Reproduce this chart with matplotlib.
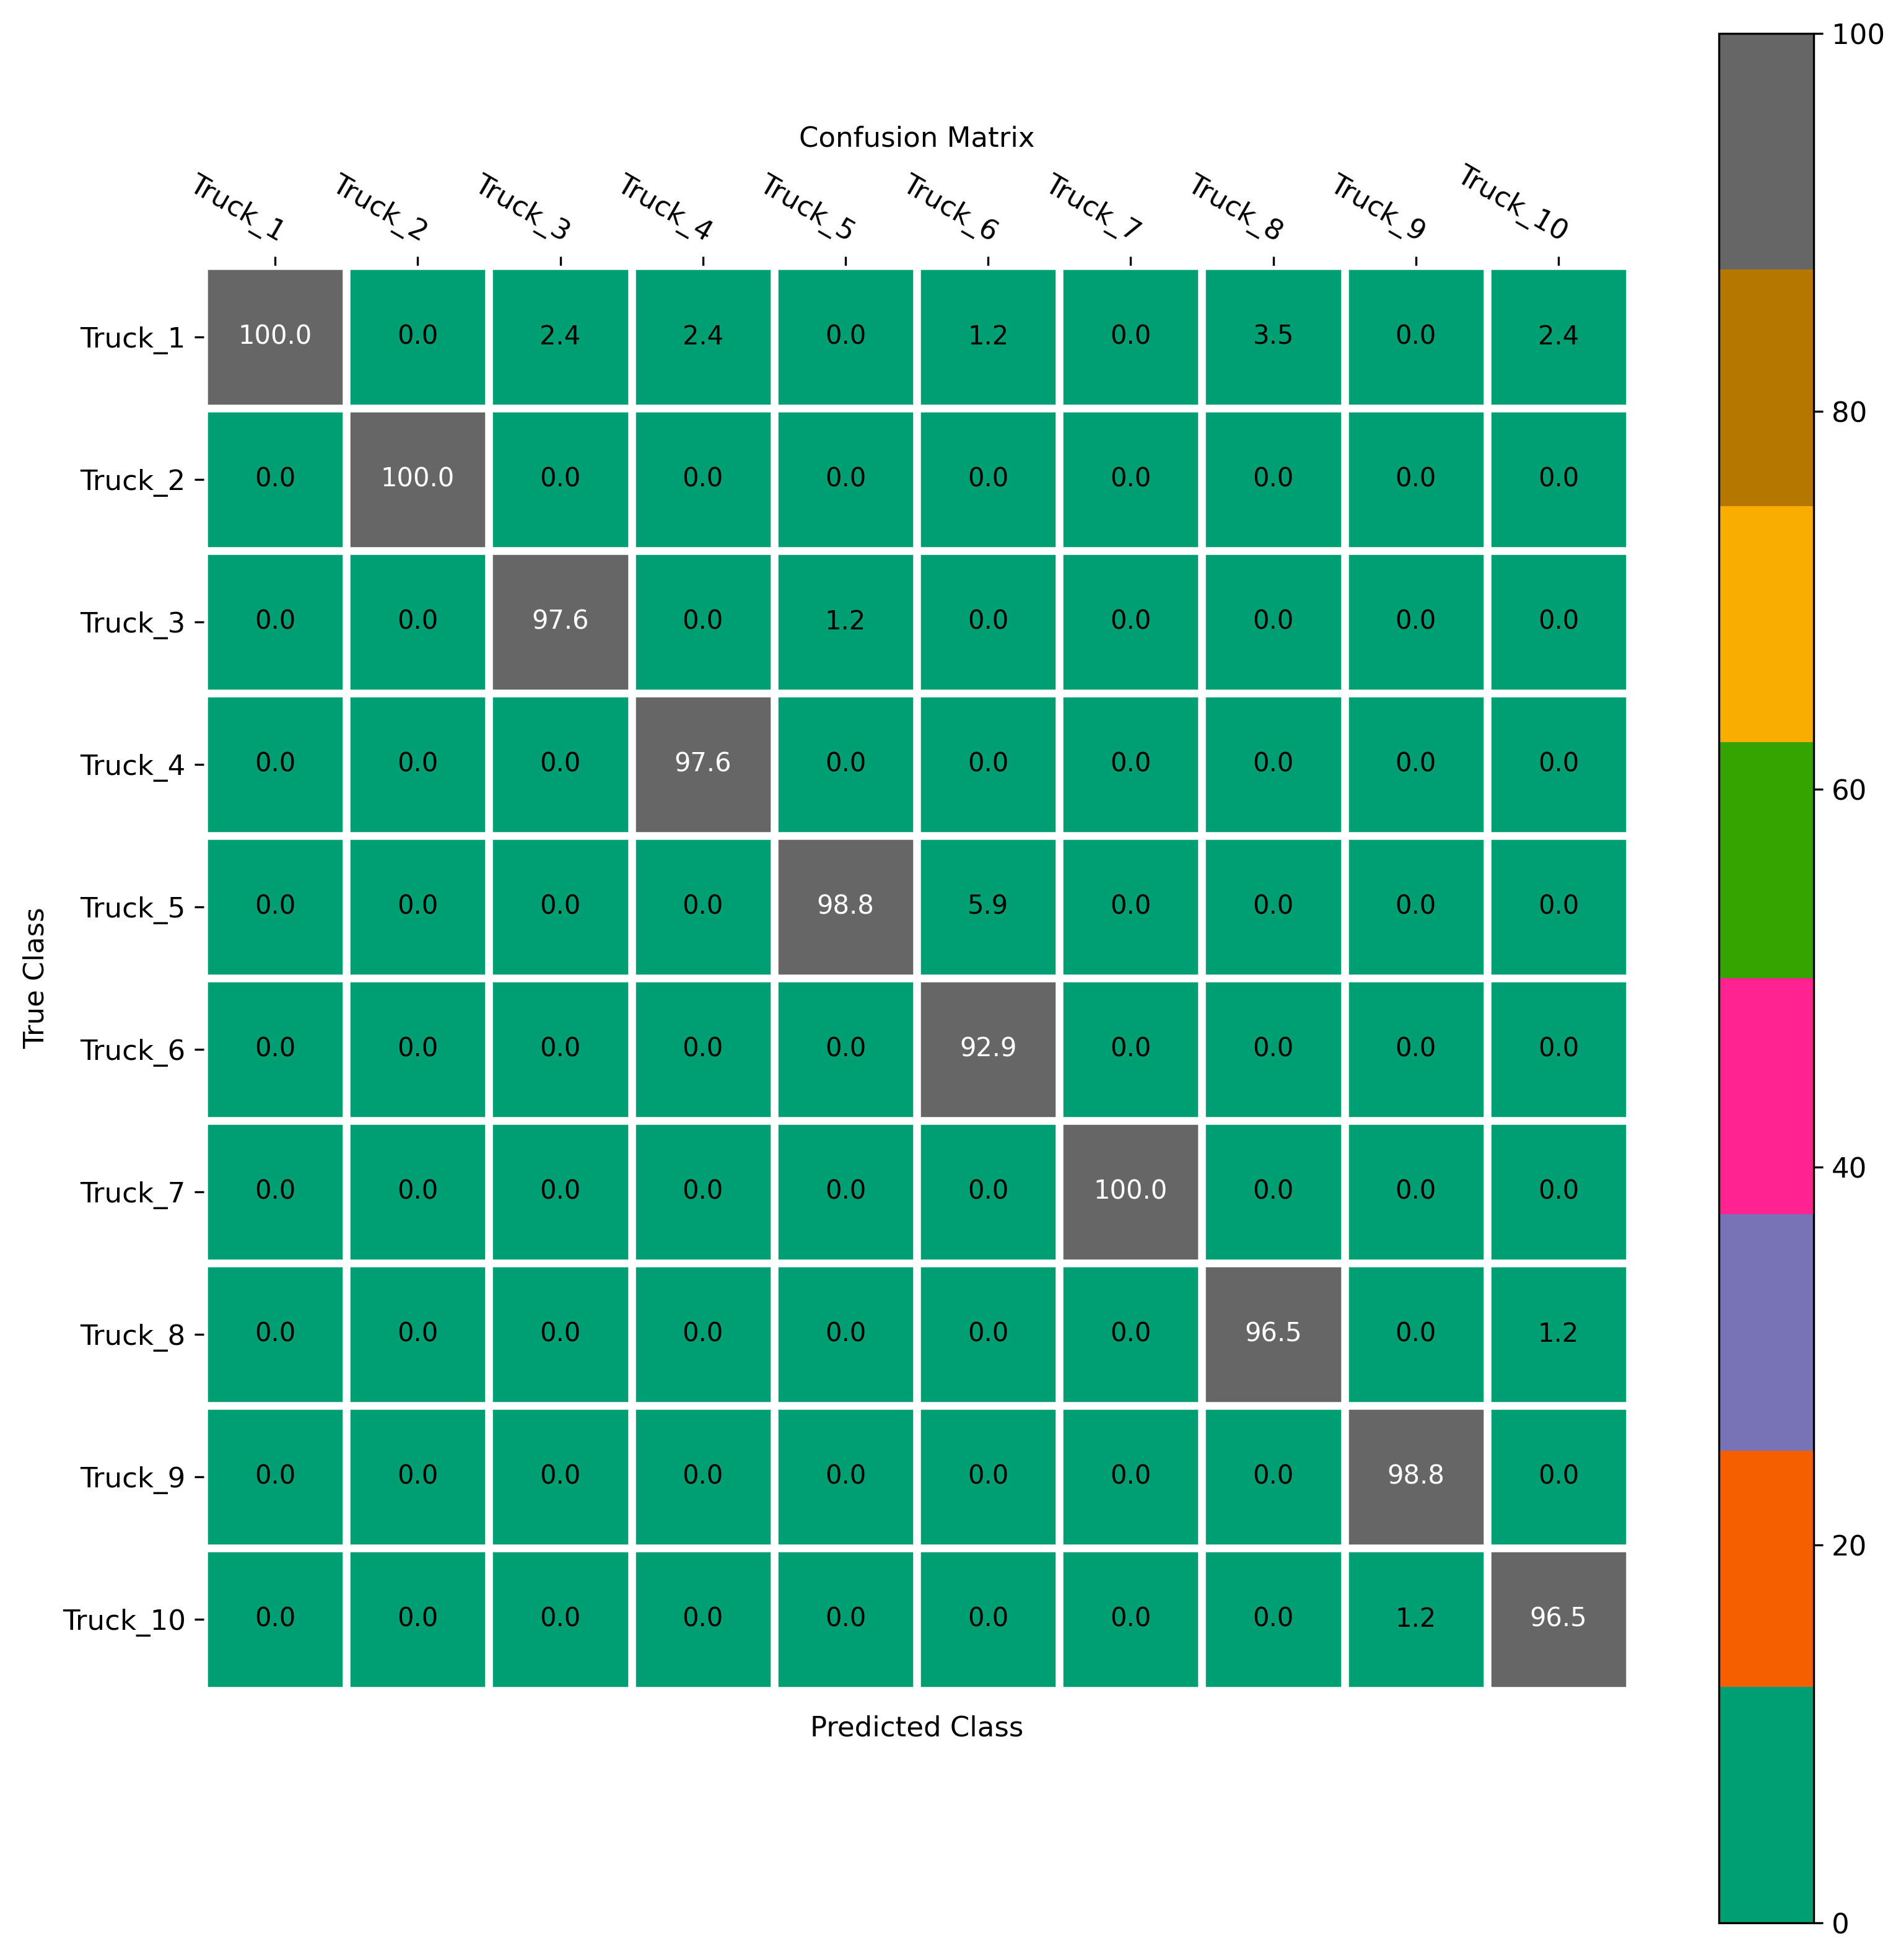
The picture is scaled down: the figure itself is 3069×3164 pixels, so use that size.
import numpy as np
import matplotlib
matplotlib.use("Agg")
import matplotlib.pyplot as plt
from matplotlib.colors import ListedColormap

# ---------------- data ----------------
class_labels = ["Truck_1", "Truck_2", "Truck_3", "Truck_4", "Truck_5",
                "Truck_6", "Truck_7", "Truck_8", "Truck_9", "Truck_10"]

row_truck_1 = [100.0, 0.0, 2.4, 2.4, 0.0, 1.2, 0.0, 3.5, 0.0, 2.4]
row_truck_2 = [0.0, 100.0, 0.0, 0.0, 0.0, 0.0, 0.0, 0.0, 0.0, 0.0]
row_truck_3 = [0.0, 0.0, 97.6, 0.0, 1.2, 0.0, 0.0, 0.0, 0.0, 0.0]
row_truck_4 = [0.0, 0.0, 0.0, 97.6, 0.0, 0.0, 0.0, 0.0, 0.0, 0.0]
row_truck_5 = [0.0, 0.0, 0.0, 0.0, 98.8, 5.9, 0.0, 0.0, 0.0, 0.0]
row_truck_6 = [0.0, 0.0, 0.0, 0.0, 0.0, 92.9, 0.0, 0.0, 0.0, 0.0]
row_truck_7 = [0.0, 0.0, 0.0, 0.0, 0.0, 0.0, 100.0, 0.0, 0.0, 0.0]
row_truck_8 = [0.0, 0.0, 0.0, 0.0, 0.0, 0.0, 0.0, 96.5, 0.0, 1.2]
row_truck_9 = [0.0, 0.0, 0.0, 0.0, 0.0, 0.0, 0.0, 0.0, 98.8, 0.0]
row_truck_10 = [0.0, 0.0, 0.0, 0.0, 0.0, 0.0, 0.0, 0.0, 1.2, 96.5]

colorbar_ticks = [0, 20, 40, 60, 80, 100]

matrix = np.array([row_truck_1, row_truck_2, row_truck_3, row_truck_4, row_truck_5,
                   row_truck_6, row_truck_7, row_truck_8, row_truck_9, row_truck_10])

# ---------------- style ----------------
cmap_colors = ["#009E73", "#F55F00", "#7872B7", "#FF2290",
               "#35A400", "#F9AD00", "#B67700", "#666666"]
cmap = ListedColormap(cmap_colors)

plt.rcParams["font.family"] = ["DejaVu Sans"]
FS = 10.8

W, H = 3070, 3164
fig = plt.figure(figsize=(W / 300, H / 300), dpi=300)

ax = fig.add_axes([329 / W, 1 - 2729 / H, 2302 / W, 2300 / H])
im = ax.imshow(matrix, cmap=cmap, vmin=0, vmax=100, aspect="auto")

n = len(class_labels)
ax.set_xticks(np.arange(n))
ax.set_yticks(np.arange(n))
ax.set_xticklabels(class_labels, fontsize=FS)
ax.set_yticklabels(class_labels, fontsize=FS)

ax.tick_params(top=True, bottom=False, labeltop=True, labelbottom=False)
plt.setp(ax.get_xticklabels(), rotation=-30, ha="right", rotation_mode="anchor")

for sp in ax.spines.values():
    sp.set_visible(False)

ax.set_xticks(np.arange(n + 1) - 0.5, minor=True)
ax.set_yticks(np.arange(n + 1) - 0.5, minor=True)
ax.grid(which="minor", color="w", linestyle="-", linewidth=3)
ax.tick_params(which="minor", bottom=False, left=False, top=False)

for i in range(n):
    for j in range(n):
        v = matrix[i, j]
        ax.text(j, i, f"{v:.1f}", ha="center", va="center",
                color="white" if v > 50 else "black", fontsize=10)

ax.set_title("Confusion Matrix", fontsize=FS)
ax.set_xlabel("Predicted Class", fontsize=FS, labelpad=4)
ax.set_ylabel("True Class", fontsize=FS, labelpad=5)

cax = fig.add_axes([2775 / W, 1 - 3104 / H, 153 / W, 3050 / H])
cb = fig.colorbar(im, cax=cax, ticks=colorbar_ticks)
cb.ax.tick_params(labelsize=FS)

fig.savefig("out.png", dpi=300)
